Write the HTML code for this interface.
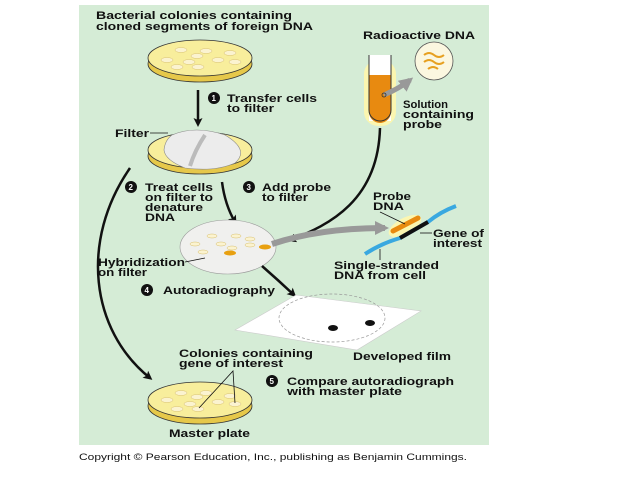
<!DOCTYPE html>
<html><head><style>
body{margin:0;background:#fff;}
svg{display:block;font-family:"Liberation Sans",Arial,sans-serif;font-weight:bold;}
text{font-size:11px;fill:#111;}
</style></head><body>
<svg width="638" height="479" viewBox="0 0 638 479">
<defs>
<marker id="ah" markerWidth="9" markerHeight="9" refX="6" refY="4.5" orient="auto" markerUnits="userSpaceOnUse"><path d="M0,0 L9,4.5 L0,9 L2,4.5 Z" fill="#111"/></marker>
<marker id="gh" markerWidth="14" markerHeight="14" refX="10" refY="7" orient="auto" markerUnits="userSpaceOnUse"><path d="M0,0 L14,7 L0,14 Z" fill="#999"/></marker>
</defs>
<rect x="79" y="5" width="410" height="440" fill="#d5ecd6"/>
<text x="96" y="19" textLength="196" lengthAdjust="spacingAndGlyphs">Bacterial colonies containing</text>
<text x="96" y="30" textLength="217" lengthAdjust="spacingAndGlyphs">cloned segments of foreign DNA</text>
<ellipse cx="200" cy="64" rx="52" ry="18" fill="#e6c84a" stroke="#333" stroke-width="0.8"/>
<ellipse cx="200" cy="58" rx="52" ry="18" fill="#f8ee9c" stroke="#333" stroke-width="0.8"/>
<g fill="#fbf3d0" stroke="#d8c070" stroke-width="0.5">
<ellipse cx="181" cy="50" rx="6" ry="2.5"/><ellipse cx="206" cy="51" rx="6" ry="2.5"/><ellipse cx="197" cy="56" rx="6" ry="2.5"/><ellipse cx="230" cy="53" rx="6" ry="2.5"/><ellipse cx="167" cy="60" rx="6" ry="2.5"/><ellipse cx="189" cy="62" rx="6" ry="2.5"/><ellipse cx="218" cy="60" rx="6" ry="2.5"/><ellipse cx="235" cy="62" rx="6" ry="2.5"/><ellipse cx="177" cy="67" rx="6" ry="2.5"/><ellipse cx="198" cy="67" rx="6" ry="2.5"/>
</g>
<line x1="198" y1="90" x2="198" y2="124" stroke="#111" stroke-width="2.5" marker-end="url(#ah)"/>
<circle cx="214" cy="98" r="6" fill="#111"/><text x="211.5" y="101" style="font-size:8px;fill:#fff">1</text>
<text x="227" y="102" textLength="90" lengthAdjust="spacingAndGlyphs">Transfer cells</text><text x="227" y="112" textLength="47" lengthAdjust="spacingAndGlyphs">to filter</text>
<ellipse cx="200" cy="156" rx="52" ry="18" fill="#e6c84a" stroke="#333" stroke-width="0.8"/>
<ellipse cx="200" cy="150" rx="52" ry="18" fill="#f8ee9c" stroke="#333" stroke-width="0.8"/>
<path d="M172,135 Q195,125 225,135 Q250,150 235,163 Q215,172 185,168 Q165,160 164,150 Q165,140 172,135 Z" fill="#ececec" stroke="#888" stroke-width="0.6"/>
<path d="M205,135 Q195,150 190,166" stroke="#bbb" stroke-width="4" fill="none"/>
<text x="115" y="137" textLength="34" lengthAdjust="spacingAndGlyphs">Filter</text><line x1="150" y1="133" x2="168" y2="133" stroke="#111" stroke-width="0.8"/>
<text x="363" y="39" textLength="112" lengthAdjust="spacingAndGlyphs">Radioactive DNA</text>
<circle cx="434" cy="61" r="19" fill="#fbf7e0" stroke="#555" stroke-width="0.8"/>
<path d="M424,55 q5,-4 10,0 t10,0 M424,62 q5,-4 10,0 t10,0 M428,69 q5,-4 10,0" stroke="#e7a020" stroke-width="2" fill="none"/>
<rect x="364" y="60" width="32" height="66" rx="14" fill="#fbf6b0"/>
<rect x="369" y="55" width="22" height="66" fill="#fff"/>
<path d="M369,75 H391 V112 a11,11 0 0 1 -22,0 Z" fill="#e88a10"/>
<path d="M369,55 V110 a11,11 0 0 0 22,0 V55" fill="none" stroke="#333" stroke-width="1"/>
<path d="M384,95 Q400,88 410,80" stroke="#999" stroke-width="5" fill="none" marker-end="url(#gh)"/>
<circle cx="384" cy="95" r="2" fill="none" stroke="#333" stroke-width="0.8"/>
<text x="403" y="108" textLength="45" lengthAdjust="spacingAndGlyphs">Solution</text><text x="403" y="118" textLength="71" lengthAdjust="spacingAndGlyphs">containing</text><text x="403" y="128" textLength="39" lengthAdjust="spacingAndGlyphs">probe</text>
<path d="M380,128 C378,200 330,225 290,240" stroke="#111" stroke-width="2.5" fill="none" marker-end="url(#ah)"/>
<circle cx="131" cy="187" r="6" fill="#111"/><text x="128.5" y="190" style="font-size:8px;fill:#fff">2</text>
<text x="145" y="191" textLength="68" lengthAdjust="spacingAndGlyphs">Treat cells</text><text x="145" y="201" textLength="68" lengthAdjust="spacingAndGlyphs">on filter to</text><text x="145" y="211" textLength="58" lengthAdjust="spacingAndGlyphs">denature</text><text x="145" y="221" textLength="30" lengthAdjust="spacingAndGlyphs">DNA</text>
<circle cx="249" cy="187" r="6" fill="#111"/><text x="246.5" y="190" style="font-size:8px;fill:#fff">3</text>
<text x="262" y="191" textLength="69" lengthAdjust="spacingAndGlyphs">Add probe</text><text x="262" y="201" textLength="46" lengthAdjust="spacingAndGlyphs">to filter</text>
<path d="M222,182 Q225,205 235,222" stroke="#111" stroke-width="2.5" fill="none" marker-end="url(#ah)"/>
<ellipse cx="228" cy="247" rx="48" ry="27" fill="#f0f0ee" stroke="#999" stroke-width="0.6"/>
<g fill="#fbf3d0" stroke="#d8c070" stroke-width="0.5">
<ellipse cx="212" cy="236" rx="5" ry="2"/><ellipse cx="236" cy="236" rx="5" ry="2"/><ellipse cx="195" cy="244" rx="5" ry="2"/><ellipse cx="221" cy="244" rx="5" ry="2"/><ellipse cx="250" cy="239" rx="5" ry="2"/><ellipse cx="203" cy="252" rx="5" ry="2"/><ellipse cx="232" cy="248" rx="5" ry="2"/><ellipse cx="250" cy="245" rx="5" ry="2"/>
</g>
<ellipse cx="230" cy="253" rx="6" ry="2.5" fill="#e8a010"/><ellipse cx="265" cy="247" rx="6" ry="2.5" fill="#e8a010"/>
<path d="M272,244 Q320,228 385,228" stroke="#999" stroke-width="6" fill="none" marker-end="url(#gh)"/>
<text x="98" y="266" textLength="87" lengthAdjust="spacingAndGlyphs">Hybridization</text><text x="98" y="276" textLength="49" lengthAdjust="spacingAndGlyphs">on filter</text>
<line x1="185" y1="262" x2="205" y2="258" stroke="#111" stroke-width="0.8"/>
<ellipse cx="405" cy="226" rx="18" ry="8" fill="#fbf6b0" transform="rotate(-28 405 226)"/>
<path d="M365,254 Q380,244 400,238 L428,222 Q440,212 456,206" stroke="#39a8e0" stroke-width="4" fill="none"/>
<path d="M400,238 L428,222" stroke="#111" stroke-width="4"/>
<path d="M393,231 L418,218" stroke="#e88a10" stroke-width="5" stroke-linecap="round"/>
<text x="373" y="200" textLength="38" lengthAdjust="spacingAndGlyphs">Probe</text><text x="373" y="210" textLength="31" lengthAdjust="spacingAndGlyphs">DNA</text>
<line x1="380" y1="212" x2="405" y2="224" stroke="#111" stroke-width="0.8"/>
<text x="433" y="237" textLength="51" lengthAdjust="spacingAndGlyphs">Gene of</text><text x="433" y="247" textLength="49" lengthAdjust="spacingAndGlyphs">interest</text>
<line x1="420" y1="233" x2="432" y2="233" stroke="#111" stroke-width="0.8"/>
<text x="334" y="269" textLength="105" lengthAdjust="spacingAndGlyphs">Single-stranded</text><text x="334" y="279" textLength="92" lengthAdjust="spacingAndGlyphs">DNA from cell</text>
<line x1="380" y1="249" x2="380" y2="260" stroke="#111" stroke-width="0.8"/>
<path d="M262,266 Q278,280 294,295" stroke="#111" stroke-width="2.5" fill="none" marker-end="url(#ah)"/>
<circle cx="147" cy="290" r="6" fill="#111"/><text x="144.5" y="293" style="font-size:8px;fill:#fff">4</text>
<text x="163" y="294" textLength="112" lengthAdjust="spacingAndGlyphs">Autoradiography</text>
<polygon points="235,330 296,295 421,311 357,350" fill="#fff" stroke="#ccc" stroke-width="0.6"/>
<ellipse cx="332" cy="318" rx="53" ry="24" fill="none" stroke="#999" stroke-width="0.7" stroke-dasharray="3,2"/>
<ellipse cx="333" cy="328" rx="5" ry="3" fill="#111"/><ellipse cx="370" cy="323" rx="5" ry="3" fill="#111"/>
<text x="353" y="360" textLength="98" lengthAdjust="spacingAndGlyphs">Developed film</text>
<path d="M130,168 C80,240 90,330 150,378" stroke="#111" stroke-width="2.5" fill="none" marker-end="url(#ah)"/>
<ellipse cx="200" cy="406" rx="52" ry="18" fill="#e6c84a" stroke="#333" stroke-width="0.8"/>
<ellipse cx="200" cy="400" rx="52" ry="18" fill="#f8ee9c" stroke="#333" stroke-width="0.8"/>
<g fill="#fbf3d0" stroke="#d8c070" stroke-width="0.5">
<ellipse cx="181" cy="393" rx="6" ry="2.5"/><ellipse cx="206" cy="393" rx="6" ry="2.5"/><ellipse cx="197" cy="397" rx="6" ry="2.5"/><ellipse cx="230" cy="396" rx="6" ry="2.5"/><ellipse cx="167" cy="400" rx="6" ry="2.5"/><ellipse cx="190" cy="404" rx="6" ry="2.5"/><ellipse cx="218" cy="402" rx="6" ry="2.5"/><ellipse cx="235" cy="404" rx="6" ry="2.5"/><ellipse cx="177" cy="409" rx="6" ry="2.5"/><ellipse cx="198" cy="409" rx="6" ry="2.5"/>
</g>
<text x="179" y="357" textLength="134" lengthAdjust="spacingAndGlyphs">Colonies containing</text><text x="179" y="367" textLength="104" lengthAdjust="spacingAndGlyphs">gene of interest</text>
<path d="M199,408 L233,371 L235,403" stroke="#111" stroke-width="0.8" fill="none"/>
<text x="169" y="437" textLength="81" lengthAdjust="spacingAndGlyphs">Master plate</text>
<circle cx="272" cy="381" r="6" fill="#111"/><text x="269.5" y="384" style="font-size:8px;fill:#fff">5</text>
<text x="287" y="385" textLength="167" lengthAdjust="spacingAndGlyphs">Compare autoradiograph</text><text x="287" y="395" textLength="115" lengthAdjust="spacingAndGlyphs">with master plate</text>
<text x="79" y="460" style="font-weight:normal;font-size:9.5px" textLength="388" lengthAdjust="spacingAndGlyphs">Copyright © Pearson Education, Inc., publishing as Benjamin Cummings.</text>
</svg>
</body></html>
